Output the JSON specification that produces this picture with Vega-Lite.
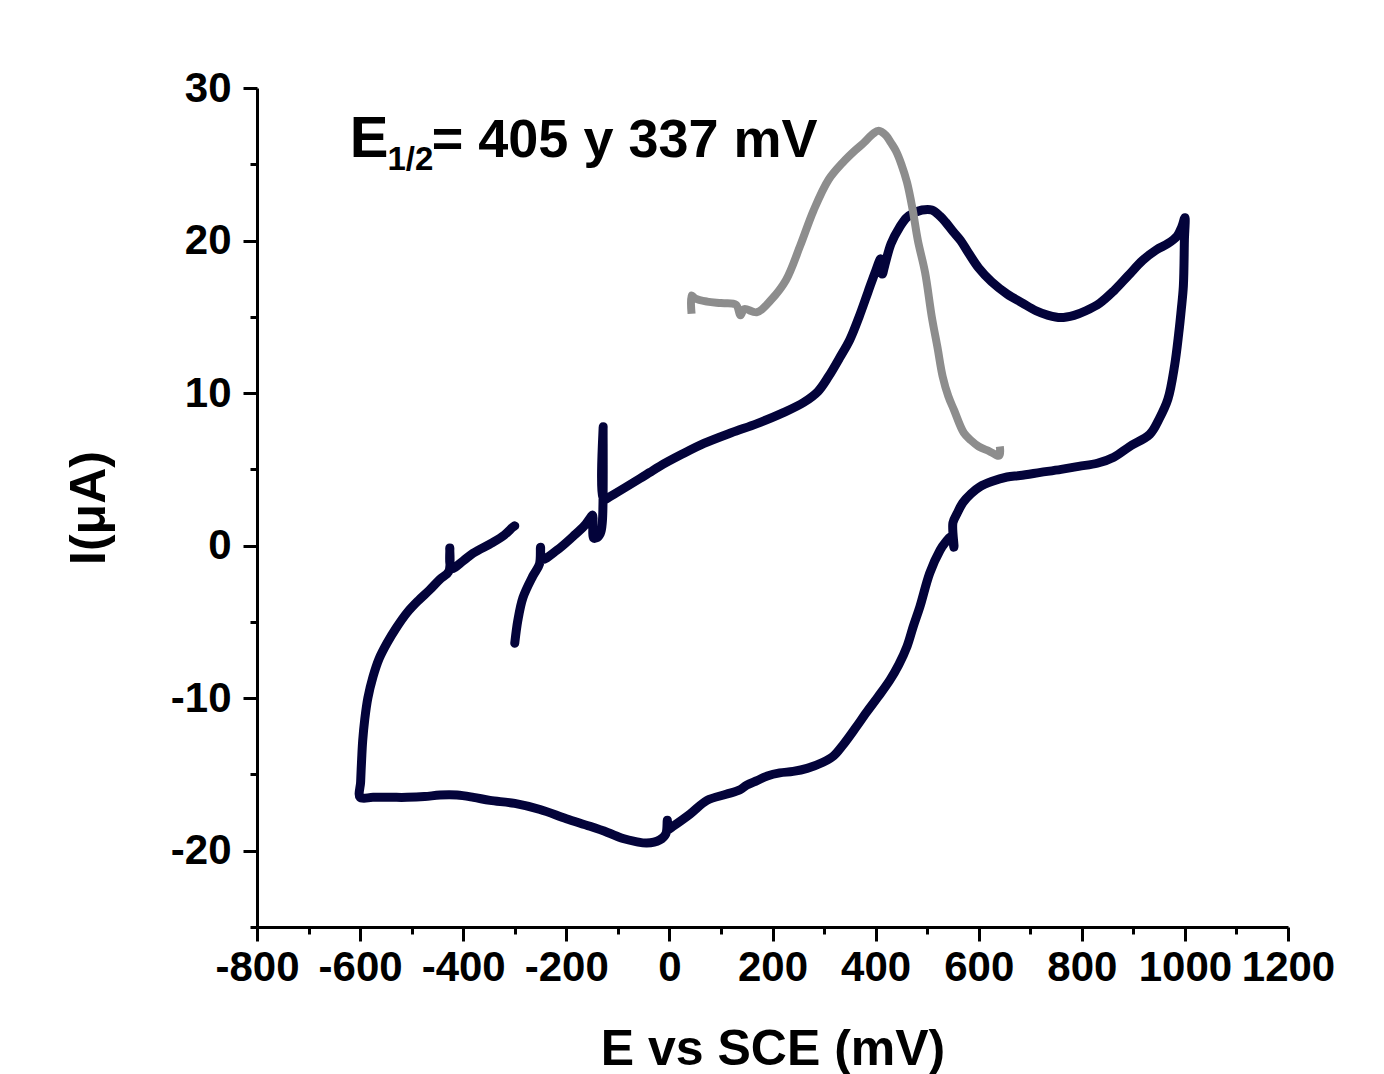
{
  "$schema": "https://vega.github.io/schema/vega-lite/v6.json",
  "width": 1031,
  "height": 839,
  "autosize": {"type": "none"},
  "padding": {"left": 257, "top": 88, "right": 96, "bottom": 147},
  "background": "white",
  "config": {
    "view": {"stroke": null},
    "axis": {
      "grid": false,
      "domainColor": "black",
      "domainWidth": 3,
      "tickColor": "black",
      "tickWidth": 3,
      "labelFont": "Liberation Sans",
      "labelFontWeight": "bold",
      "labelFontSize": 42,
      "labelColor": "black",
      "labelOverlap": false,
      "labelFlush": false,
      "titleFont": "Liberation Sans",
      "titleFontWeight": "bold",
      "titleFontSize": 50,
      "titleColor": "black"
    }
  },
  "datasets": {
    "cv": [
      {"o":1,"E":-300,"I":-6.4},{"o":2,"E":-294,"I":-4.9},{"o":3,"E":-284,"I":-3.4},{"o":4,"E":-265,"I":-2.0},
      {"o":5,"E":-252,"I":-1.2},{"o":6,"E":-250,"I":-0.1},{"o":7,"E":-247,"I":-0.9},{"o":8,"E":-218,"I":-0.3},
      {"o":9,"E":-187,"I":0.6},{"o":10,"E":-165,"I":1.3},{"o":11,"E":-152,"I":1.9},{"o":12,"E":-149,"I":2.0},
      {"o":13,"E":-147,"I":0.5},{"o":14,"E":-142,"I":0.5},{"o":15,"E":-134,"I":0.8},{"o":16,"E":-130,"I":1.6},
      {"o":17,"E":-128.5,"I":7.8},{"o":18,"E":-127,"I":3.0},{"o":19,"E":-116,"I":3.2},{"o":20,"E":-57,"I":4.4},
      {"o":21,"E":-38,"I":4.8},{"o":22,"E":-19,"I":5.2},{"o":23,"E":25,"I":6.0},{"o":24,"E":67,"I":6.7},
      {"o":25,"E":120,"I":7.4},{"o":26,"E":170,"I":8.0},{"o":27,"E":220,"I":8.7},{"o":28,"E":261,"I":9.4},
      {"o":29,"E":288,"I":10.1},{"o":30,"E":309,"I":11.1},{"o":31,"E":330,"I":12.3},{"o":32,"E":350,"I":13.5},
      {"o":33,"E":368,"I":15.0},{"o":34,"E":385,"I":16.6},{"o":35,"E":400,"I":18.0},{"o":36,"E":410,"I":18.8},
      {"o":37,"E":413,"I":17.8},{"o":38,"E":418,"I":18.4},{"o":39,"E":430,"I":19.8},{"o":40,"E":447,"I":20.9},
      {"o":41,"E":460,"I":21.5},{"o":42,"E":474,"I":21.8},{"o":43,"E":490,"I":22.0},{"o":44,"E":509,"I":22.0},
      {"o":45,"E":525,"I":21.6},{"o":46,"E":536,"I":21.2},{"o":47,"E":550,"I":20.6},{"o":48,"E":565,"I":20.0},
      {"o":49,"E":580,"I":19.2},{"o":50,"E":600,"I":18.2},{"o":51,"E":625,"I":17.3},{"o":52,"E":655,"I":16.5},
      {"o":53,"E":685,"I":15.9},{"o":54,"E":711,"I":15.4},{"o":55,"E":735,"I":15.1},{"o":56,"E":759,"I":14.95},
      {"o":57,"E":785,"I":15.1},{"o":58,"E":808,"I":15.4},{"o":59,"E":835,"I":15.9},{"o":60,"E":862,"I":16.7},
      {"o":61,"E":890,"I":17.7},{"o":62,"E":918,"I":18.7},{"o":63,"E":945,"I":19.4},{"o":64,"E":967,"I":19.8},
      {"o":65,"E":985,"I":20.3},{"o":66,"E":994,"I":20.9},{"o":67,"E":1000,"I":21.5},
      {"o":68,"E":999,"I":20.0},{"o":69,"E":997,"I":17.0},{"o":70,"E":993,"I":15.5},{"o":71,"E":988,"I":13.9},
      {"o":72,"E":980,"I":11.8},{"o":73,"E":967,"I":9.6},{"o":74,"E":950,"I":8.3},{"o":75,"E":932,"I":7.3},
      {"o":76,"E":893,"I":6.5},{"o":77,"E":862,"I":5.8},{"o":78,"E":830,"I":5.4},{"o":79,"E":794,"I":5.2},
      {"o":80,"E":760,"I":5.0},{"o":81,"E":720,"I":4.8},{"o":82,"E":680,"I":4.6},{"o":83,"E":655,"I":4.5},
      {"o":84,"E":625,"I":4.2},{"o":85,"E":602,"I":3.85},{"o":86,"E":585,"I":3.4},{"o":87,"E":569,"I":2.8},
      {"o":88,"E":558,"I":2.1},{"o":89,"E":550,"I":1.5},{"o":90,"E":552,"I":-0.1},{"o":91,"E":547,"I":0.6},
      {"o":92,"E":535,"I":0.2},{"o":93,"E":525,"I":-0.3},{"o":94,"E":505,"I":-1.8},{"o":95,"E":486,"I":-4.0},
      {"o":96,"E":473,"I":-5.3},{"o":97,"E":461,"I":-6.6},{"o":98,"E":445,"I":-7.8},{"o":99,"E":428,"I":-8.8},
      {"o":100,"E":405,"I":-9.9},{"o":101,"E":383,"I":-10.9},{"o":102,"E":360,"I":-12.0},{"o":103,"E":336,"I":-13.1},
      {"o":104,"E":318,"I":-13.8},{"o":105,"E":298,"I":-14.2},{"o":106,"E":267,"I":-14.6},{"o":107,"E":240,"I":-14.8},
      {"o":108,"E":214,"I":-14.9},{"o":109,"E":190,"I":-15.1},{"o":110,"E":170,"I":-15.4},{"o":111,"E":150,"I":-15.7},
      {"o":112,"E":137,"I":-16.0},{"o":113,"E":110,"I":-16.3},{"o":114,"E":73,"I":-16.7},{"o":115,"E":40,"I":-17.6},
      {"o":116,"E":7,"I":-18.4},{"o":117,"E":-2,"I":-18.6},{"o":118,"E":-4,"I":-18.0},{"o":119,"E":-7,"I":-18.9},
      {"o":120,"E":-19,"I":-19.3},{"o":121,"E":-44,"I":-19.5},{"o":122,"E":-65,"I":-19.4},{"o":123,"E":-90,"I":-19.2},
      {"o":124,"E":-120,"I":-18.8},{"o":125,"E":-154,"I":-18.4},{"o":126,"E":-200,"I":-17.9},{"o":127,"E":-251,"I":-17.3},
      {"o":128,"E":-300,"I":-16.9},{"o":129,"E":-348,"I":-16.7},{"o":130,"E":-380,"I":-16.5},{"o":131,"E":-412,"I":-16.35},
      {"o":132,"E":-445,"I":-16.35},{"o":133,"E":-475,"I":-16.45},{"o":134,"E":-509,"I":-16.5},{"o":135,"E":-540,"I":-16.5},
      {"o":136,"E":-575,"I":-16.5},{"o":137,"E":-600,"I":-16.5},{"o":138,"E":-599,"I":-15.5},{"o":139,"E":-597,"I":-14.0},
      {"o":140,"E":-595,"I":-12.8},{"o":141,"E":-591,"I":-11.4},{"o":142,"E":-585,"I":-10.0},{"o":143,"E":-575,"I":-8.6},
      {"o":144,"E":-563,"I":-7.4},{"o":145,"E":-548,"I":-6.4},{"o":146,"E":-530,"I":-5.4},{"o":147,"E":-509,"I":-4.4},
      {"o":148,"E":-487,"I":-3.6},{"o":149,"E":-465,"I":-2.9},{"o":150,"E":-445,"I":-2.2},{"o":151,"E":-428,"I":-1.7},
      {"o":152,"E":-426,"I":-0.15},{"o":153,"E":-423,"I":-1.5},{"o":154,"E":-400,"I":-1.0},{"o":155,"E":-381,"I":-0.5},
      {"o":156,"E":-343,"I":0.2},{"o":157,"E":-320,"I":0.7},{"o":158,"E":-304,"I":1.2},{"o":159,"E":-300,"I":1.3}
    ],
    "dpv": [
      {"o":1,"E":43,"I":15.2},{"o":2,"E":43,"I":16.4},{"o":3,"E":50,"I":16.2},{"o":4,"E":73,"I":16.0},
      {"o":5,"E":100,"I":15.9},{"o":6,"E":129,"I":15.8},{"o":7,"E":138,"I":15.1},{"o":8,"E":145,"I":15.5},
      {"o":9,"E":170,"I":15.3},{"o":10,"E":197,"I":16.1},{"o":11,"E":226,"I":17.4},{"o":12,"E":253,"I":19.6},
      {"o":13,"E":280,"I":22.0},{"o":14,"E":309,"I":24.0},{"o":15,"E":336,"I":25.1},{"o":16,"E":360,"I":25.9},
      {"o":17,"E":377,"I":26.4},{"o":18,"E":395,"I":27.0},{"o":19,"E":406,"I":27.2},{"o":20,"E":420,"I":26.9},
      {"o":21,"E":430,"I":26.4},{"o":22,"E":439,"I":25.9},{"o":23,"E":450,"I":25.0},{"o":24,"E":461,"I":23.8},
      {"o":25,"E":472,"I":22.0},{"o":26,"E":482,"I":20.0},{"o":27,"E":496,"I":17.9},{"o":28,"E":509,"I":15.0},
      {"o":29,"E":520,"I":13.0},{"o":30,"E":530,"I":11.1},{"o":31,"E":541,"I":9.8},{"o":32,"E":552,"I":8.9},
      {"o":33,"E":571,"I":7.4},{"o":34,"E":585,"I":6.9},{"o":35,"E":600,"I":6.5},{"o":36,"E":620,"I":6.2},
      {"o":37,"E":640,"I":5.9},{"o":38,"E":641,"I":6.5}
    ]
  },
  "layer": [
    {
      "data": {"name": "cv"},
      "mark": {"type": "line", "color": "#03033a", "strokeWidth": 9, "strokeCap": "round", "strokeJoin": "round", "interpolate": "catmull-rom"},
      "encoding": {
        "x": {"field": "E", "type": "quantitative",
              "scale": {"domain": [-800, 1200], "nice": false, "zero": false},
              "axis": {"orient": "bottom", "values": [-800,-600,-400,-200,0,200,400,600,800,1000,1200],
                       "labelExpr": "'' + datum.value",
                       "tickSize": 14, "labelPadding": 6, "title": "E vs SCE (mV)", "titlePadding": 36}},
        "y": {"field": "I", "type": "quantitative",
              "scale": {"domain": [-25, 30], "nice": false, "zero": false},
              "axis": {"orient": "left", "values": [-20,-10,0,10,20,30],
                       "labelExpr": "'' + datum.value",
                       "tickSize": 14, "labelPadding": 12, "title": "I(μA)", "titlePadding": 56}},
        "order": {"field": "o", "type": "quantitative"}
      }
    },
    {
      "data": {"name": "dpv"},
      "mark": {"type": "line", "color": "#8d8d8d", "strokeWidth": 8, "strokeCap": "butt", "strokeJoin": "round", "interpolate": "catmull-rom"},
      "encoding": {
        "x": {"field": "E", "type": "quantitative",
              "axis": {"orient": "bottom", "values": [-700,-500,-300,-100,100,300,500,700,900,1100],
                       "tickSize": 7, "labels": false, "domain": false, "title": null}},
        "y": {"field": "I", "type": "quantitative",
              "axis": {"orient": "left", "values": [-25,-15,-5,5,15,25],
                       "tickSize": 7, "labels": false, "domain": false, "title": null}},
        "order": {"field": "o", "type": "quantitative"}
      }
    },
    {
      "data": {"values": [{"E": -620, "I": 25.5, "t": "E"}]},
      "mark": {"type": "text", "align": "left", "baseline": "alphabetic", "fontSize": 58, "fontWeight": "bold",
               "font": "Liberation Sans", "color": "black"},
      "encoding": {
        "x": {"field": "E", "type": "quantitative", "axis": null},
        "y": {"field": "I", "type": "quantitative", "axis": null},
        "text": {"field": "t"}
      }
    },
    {
      "data": {"values": [{"E": -547, "I": 24.6, "t": "1/2"}]},
      "mark": {"type": "text", "align": "left", "baseline": "alphabetic", "fontSize": 33, "fontWeight": "bold",
               "font": "Liberation Sans", "color": "black"},
      "encoding": {
        "x": {"field": "E", "type": "quantitative", "axis": null},
        "y": {"field": "I", "type": "quantitative", "axis": null},
        "text": {"field": "t"}
      }
    },
    {
      "data": {"values": [{"E": -461, "I": 25.5, "t": "= 405 y 337 mV"}]},
      "mark": {"type": "text", "align": "left", "baseline": "alphabetic", "fontSize": 54, "fontWeight": "bold",
               "font": "Liberation Sans", "color": "black"},
      "encoding": {
        "x": {"field": "E", "type": "quantitative", "axis": null},
        "y": {"field": "I", "type": "quantitative", "axis": null},
        "text": {"field": "t"}
      }
    }
  ],
  "resolve": {"axis": {"x": "independent", "y": "independent"}}
}
